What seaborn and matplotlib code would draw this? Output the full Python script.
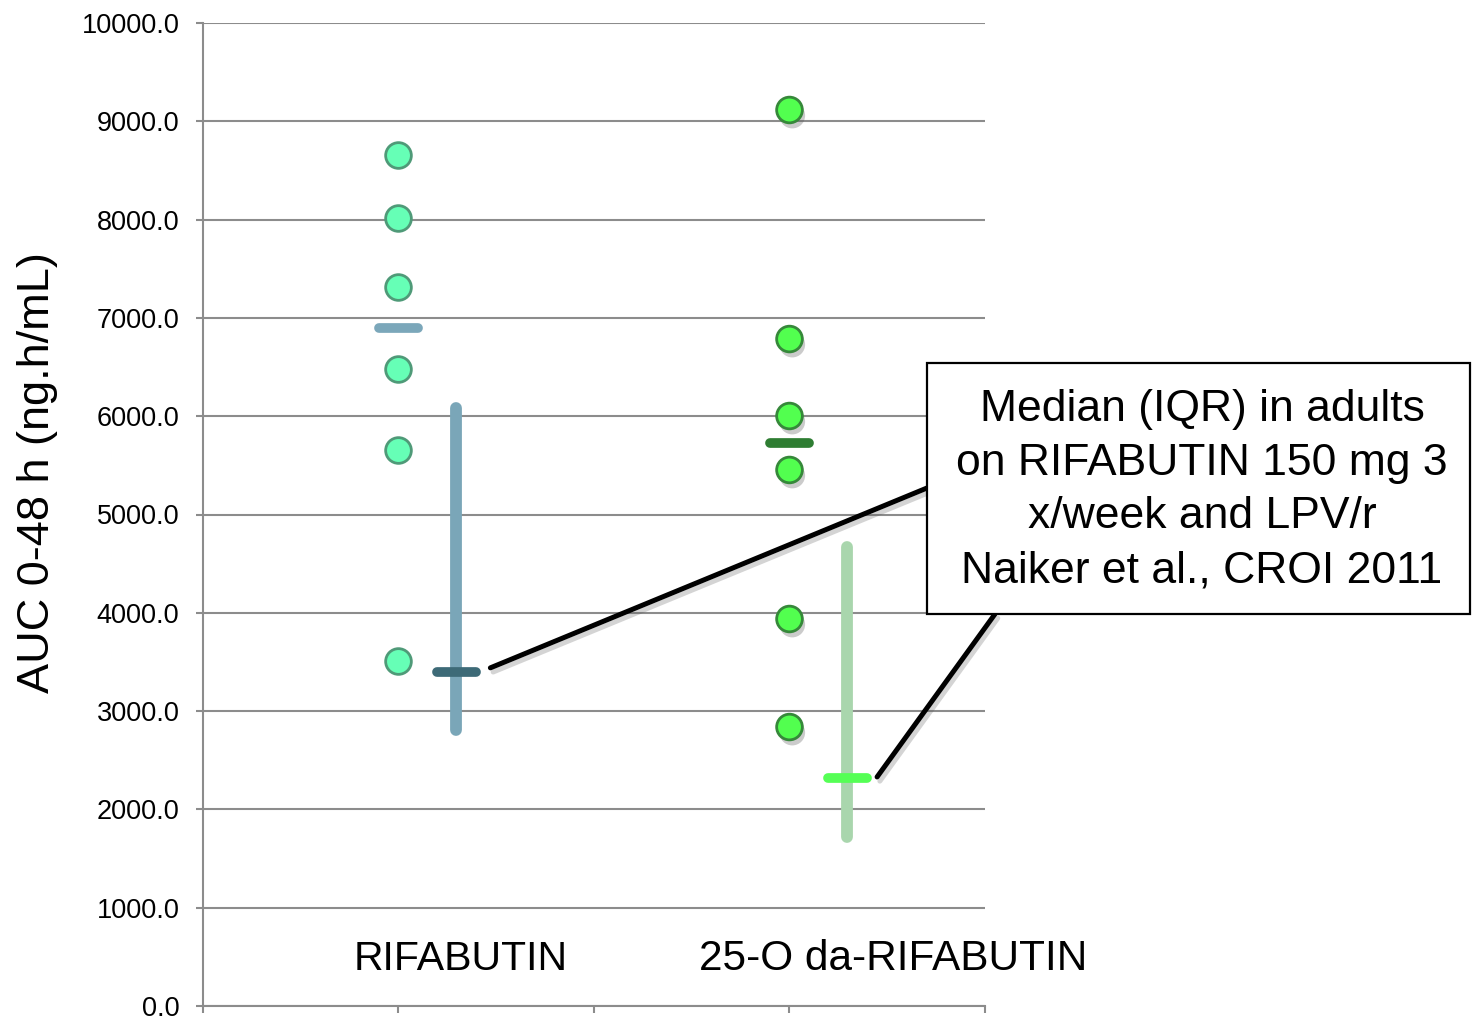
import numpy as np
import pandas as pd
import seaborn as sns
import matplotlib.pyplot as plt
import matplotlib.patheffects as pe
from matplotlib.patches import Rectangle

# Individual AUC 0-48 h values (ng.h/mL)
categories = ["RIFABUTIN", "25-O da-RIFABUTIN"]
rifabutin_auc = [8657, 8016, 7314, 6480, 5656, 3510]
desacetyl_auc = [9115, 6785, 6002, 5453, 3937, 2838]

# Adult reference: median and IQR (RIFABUTIN 150 mg 3x/week + LPV/r)
adult_median = [3398, 2319]
adult_q1 = [2810, 1720]
adult_q3 = [6080, 4670]

y_ticks = [0, 1000, 2000, 3000, 4000, 5000, 6000, 7000, 8000, 9000, 10000]

point_face = ["#66ffb6", "#52ff4f"]
point_edge = ["#4f9a78", "#36883a"]
median_color = ["#7ba7ba", "#2e7d32"]
iqr_color = ["#7aa6b8", "#a9d6ad"]
iqr_median_color = ["#3d6a77", "#55ff55"]

sns.set_style("white")
plt.rcParams["font.family"] = ["Liberation Sans", "DejaVu Sans"]
plt.rcParams["text.color"] = "black"
plt.rcParams["axes.labelcolor"] = "black"
plt.rcParams["ytick.labelcolor"] = "black"

df = pd.DataFrame({
    "group": [categories[0]] * len(rifabutin_auc) + [categories[1]] * len(desacetyl_auc),
    "auc": rifabutin_auc + desacetyl_auc,
})

fig = plt.figure(figsize=(14.72, 10.16), dpi=100)
ax = fig.add_axes([203 / 1472, 1 - 1006 / 1016, (985 - 203) / 1472, (1006 - 23) / 1016])

shadow = [pe.SimplePatchShadow(offset=(2, -4), shadow_rgbFace="#555555", alpha=0.3), pe.Normal()]
line_shadow = [pe.SimpleLineShadow(offset=(2, -3), shadow_color="#555555", alpha=0.25), pe.Normal()]

for i, cat in enumerate(categories):
    sub = df[df["group"] == cat]
    sns.stripplot(data=sub, x="group", y="auc", order=categories, jitter=False,
                  color=point_face[i], edgecolor=point_edge[i], linewidth=2,
                  size=18.5, ax=ax, zorder=5)
    ax.collections[-1].set_path_effects(shadow)

# Median of individual values
medians = df.groupby("group")["auc"].median().reindex(categories).values
for i, m in enumerate(medians):
    ax.plot([i - 0.05, i + 0.05], [m, m], color=median_color[i], lw=7,
            solid_capstyle="round", zorder=4)

# Adult median (IQR)
off = 0.148
for i in range(len(categories)):
    ax.plot([i + off, i + off], [adult_q1[i], adult_q3[i]], color=iqr_color[i], lw=8.5,
            solid_capstyle="round", zorder=3)
    ax.plot([i + off - 0.05, i + off + 0.05], [adult_median[i]] * 2, color=iqr_median_color[i],
            lw=7, solid_capstyle="round", zorder=4)

ax.set_xlim(-0.5, 1.5)
ax.set_ylim(0, 10000)
ax.set_yticks(y_ticks)
ax.set_yticklabels([f"{v:.1f}" for v in y_ticks], fontsize=19.5, color="black")
ax.set_xticks([-0.5, 0, 0.5, 1, 1.5])
ax.set_xticklabels([])
ax.set_xlabel("")
ax.set_ylabel("AUC 0-48 h (ng.h/mL)", fontsize=32.5, color="black")
ax.yaxis.set_label_coords(-0.185, 0.543)

ax.yaxis.grid(True, color="#8c8c8c", lw=1.5)
ax.xaxis.grid(False)
ax.tick_params(axis="y", length=5, width=1.5, color="#8c8c8c", pad=12, left=True)
ax.tick_params(axis="x", length=5, width=1.5, color="#8c8c8c", bottom=True, direction="out")
for s in ["top", "right"]:
    ax.spines[s].set_visible(False)
for s in ["left", "bottom"]:
    ax.spines[s].set_color("#8c8c8c")
    ax.spines[s].set_linewidth(1.5)

# Category labels inside the plot area
label_x = [0.16, 1.265]
label_size = [29.5, 30.5]
for x, cat, fs in zip(label_x, categories, label_size):
    ax.text(x, 0.048, cat, transform=ax.get_xaxis_transform(), ha="center", va="center",
            fontsize=fs, color="black")

# Leader lines from the adult medians to the note
ax.annotate("", xy=(0.235, 3440), xycoords="data",
            xytext=(927 / 1472, 1 - 488 / 1016), textcoords="figure fraction",
            arrowprops=dict(arrowstyle="-", lw=3.6, color="black", shrinkA=0, shrinkB=0,
                            path_effects=line_shadow), annotation_clip=False)
ax.annotate("", xy=(1.224, 2330), xycoords="data",
            xytext=(995 / 1472, 1 - 614 / 1016), textcoords="figure fraction",
            arrowprops=dict(arrowstyle="-", lw=3.6, color="black", shrinkA=0, shrinkB=0,
                            path_effects=line_shadow), annotation_clip=False)

fig.patches.append(Rectangle((927 / 1472, 1 - 614 / 1016), (1470 - 927) / 1472, (614 - 363) / 1016,
                             transform=fig.transFigure, facecolor="white", edgecolor="black",
                             lw=1.6, zorder=2))
fig.text(1202 / 1472, 1 - 490 / 1016,
         "Median (IQR) in adults\non RIFABUTIN 150 mg 3\nx/week and LPV/r\nNaiker et al., CROI 2011",
         ha="center", va="center", fontsize=32, linespacing=1.4, zorder=3, color="black")

fig.savefig("out.png", dpi=100)
